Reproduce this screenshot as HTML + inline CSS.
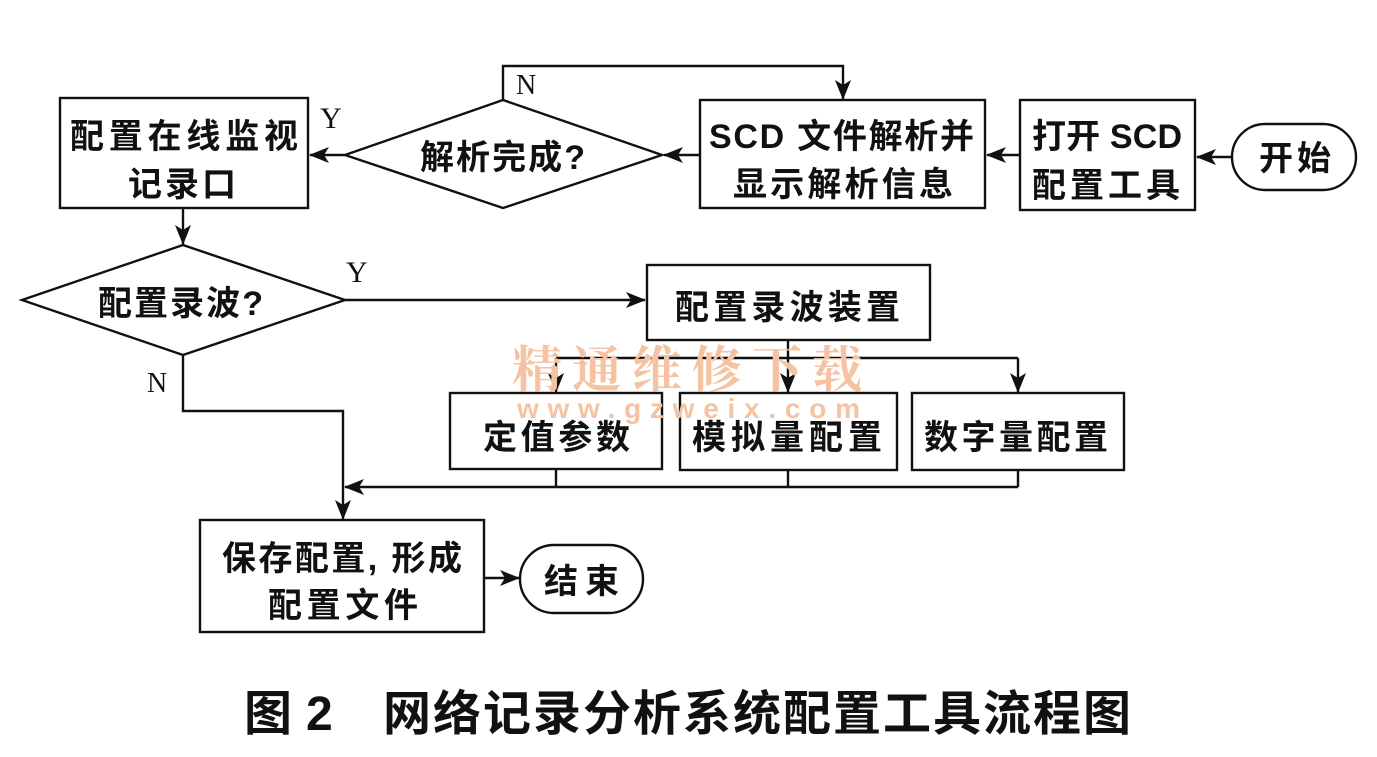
<!DOCTYPE html>
<html><head><meta charset="utf-8"><style>
html,body{margin:0;padding:0;background:#fff;}
svg{display:block;}
text{font-family:"Liberation Serif","Noto Serif CJK SC","Noto Sans CJK SC",serif;fill:#111;}
.c{font-family:"Liberation Sans","Noto Sans CJK SC",sans-serif;font-size:34px;font-weight:bold;}
</style></head><body>
<svg width="1377" height="757" viewBox="0 0 1377 757" xmlns="http://www.w3.org/2000/svg">
<defs>
<marker id="a" markerWidth="20" markerHeight="16" refX="19" refY="8" orient="auto" markerUnits="userSpaceOnUse">
<path d="M0,0 L20,8 L0,16 L5,8 Z" fill="#111"/></marker>
</defs>
<g stroke="#111" stroke-width="2.4" fill="none">
<rect x="60" y="98" width="248" height="110"/>
<polygon points="345,155 503,100 662,155 503,208"/>
<rect x="700" y="100" width="285" height="108"/>
<rect x="1020" y="100" width="175" height="110"/>
<rect x="1232" y="124" width="124" height="66" rx="33"/>
<polygon points="22,300 183,245 345,300 183,355"/>
<rect x="647" y="265" width="283" height="75"/>
<rect x="450" y="393" width="212" height="76"/>
<rect x="680" y="393" width="217" height="77"/>
<rect x="912" y="393" width="212" height="77"/>
<rect x="200" y="520" width="284" height="112"/>
<rect x="520" y="545" width="123" height="68" rx="34"/>
<line x1="1232" y1="157" x2="1197" y2="157" marker-end="url(#a)"/>
<line x1="1020" y1="155" x2="987" y2="155" marker-end="url(#a)"/>
<line x1="700" y1="155" x2="664" y2="155" marker-end="url(#a)"/>
<line x1="345" y1="155" x2="310" y2="155" marker-end="url(#a)"/>
<polyline points="503,100 503,66 843,66 843,99" marker-end="url(#a)"/>
<line x1="183" y1="208" x2="183" y2="244" marker-end="url(#a)"/>
<line x1="345" y1="300" x2="645" y2="300" marker-end="url(#a)"/>
<line x1="788" y1="340" x2="788" y2="358"/>
<line x1="556" y1="358" x2="1018" y2="358"/>
<line x1="556" y1="358" x2="556" y2="392" marker-end="url(#a)"/>
<line x1="788" y1="358" x2="788" y2="392" marker-end="url(#a)"/>
<line x1="1018" y1="358" x2="1018" y2="392" marker-end="url(#a)"/>
<line x1="556" y1="469" x2="556" y2="487"/>
<line x1="788" y1="470" x2="788" y2="487"/>
<line x1="1018" y1="470" x2="1018" y2="487"/>
<line x1="1018" y1="487" x2="345" y2="487" marker-end="url(#a)"/>
<polyline points="183,355 183,411 343,411 343,519" marker-end="url(#a)"/>
<line x1="484" y1="578" x2="519" y2="578" marker-end="url(#a)"/>
</g>
<text x="512" y="387" font-size="50" font-weight="bold" style="fill:#f5c3a3;font-family:'Noto Serif CJK SC',serif" textLength="350">精通维修下载</text>
<text x="517" y="418" font-size="28" font-weight="bold" style="fill:#f5c3a3;font-family:'Liberation Sans',sans-serif" textLength="343">www.gzweix.com</text>
<text class="c" x="70" y="148" textLength="228">配置在线监视</text>
<text class="c" x="128" y="196" textLength="108">记录口</text>
<text class="c" x="420" y="169" textLength="165">解析完成?</text>
<text class="c" x="709" y="148" textLength="265">SCD 文件解析并</text>
<text class="c" x="733" y="196" textLength="220">显示解析信息</text>
<text class="c" x="1032" y="148" textLength="150">打开 SCD</text>
<text class="c" x="1032" y="197" textLength="148">配置工具</text>
<text class="c" x="1259" y="170" textLength="72">开始</text>
<text class="c" x="98" y="315" textLength="165">配置录波?</text>
<text class="c" x="675" y="319" textLength="225">配置录波装置</text>
<text class="c" x="483" y="449" textLength="147">定值参数</text>
<text class="c" x="692" y="449" textLength="190">模拟量配置</text>
<text class="c" x="924" y="449" textLength="184">数字量配置</text>
<text class="c" x="222" y="570" textLength="240">保存配置, 形成</text>
<text class="c" x="268" y="617" textLength="150">配置文件</text>
<text class="c" x="544" y="593" textLength="75">结束</text>
<text x="320" y="128" font-size="30">Y</text>
<text x="516" y="94" font-size="28">N</text>
<text x="346" y="282" font-size="30">Y</text>
<text x="147" y="392" font-size="28">N</text>
<text x="244" y="730" font-size="48" font-weight="bold" style="font-family:'Liberation Sans','Noto Sans CJK SC',sans-serif" textLength="46">图</text>
<text x="306" y="730" font-size="48" font-weight="bold" style="font-family:'Liberation Sans',sans-serif">2</text>
<text x="383" y="730" font-size="48" font-weight="bold" style="font-family:'Liberation Sans','Noto Sans CJK SC',sans-serif" textLength="748">网络记录分析系统配置工具流程图</text>
</svg>
</body></html>
